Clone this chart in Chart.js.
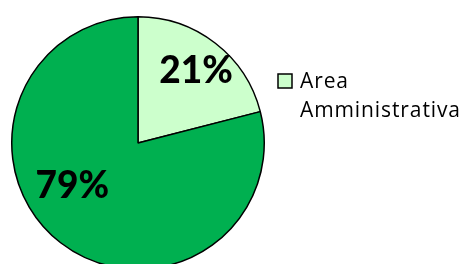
<!DOCTYPE html>
<html>
<head>
<meta charset="utf-8">
<script src="https://cdn.jsdelivr.net/npm/chart.js@4/dist/chart.umd.min.js"></script>
<style>
  html, body { margin: 0; padding: 0; background: #fff; overflow: hidden; }
  #wrap { width: 465px; height: 270px; }
</style>
</head>
<body>
<div id="wrap"><canvas id="pieChart" width="465" height="270"></canvas></div>
<script>
// data
const categories = ['Area Amministrativa', 'Altro'];
const values = [21, 79];
const pctLabels = ['21%', '79%'];
const legendLines = [['Area', 'Amministrativa']];
const sliceColors = ['#ccffcc', '#00b050'];

// where each % label sits: angle (deg, 0 = right, clockwise) and fraction of radius
const labelSpots = [[-51, 0.73], [147, 0.62]];

const labelPlugin = {
    id: 'pctLabels',
    afterDatasetsDraw(chart) {
        const ctx = chart.ctx;
        const meta = chart.getDatasetMeta(0);
        ctx.save();
        ctx.font = '900 37px Lato';
        ctx.fillStyle = '#000';
        ctx.textAlign = 'center';
        ctx.textBaseline = 'middle';
        meta.data.forEach((arc, i) => {
            const a = labelSpots[i][0] * Math.PI / 180;
            const r = arc.outerRadius * labelSpots[i][1];
            ctx.fillText(pctLabels[i], arc.x + Math.cos(a) * r, arc.y + Math.sin(a) * r);
        });
        ctx.restore();
    }
};

const legendPlugin = {
    id: 'sideLegend',
    afterDraw(chart) {
        const ctx = chart.ctx;
        const area = chart.chartArea;
        let x = area.right + 13;
        let y = 81;
        ctx.save();
        ctx.font = '21px "Open Sans"';
        ctx.letterSpacing = '0.9px';
        ctx.textBaseline = 'alphabetic';
        legendLines.forEach((lines, i) => {
            ctx.fillStyle = sliceColors[i];
            ctx.fillRect(x, y - 7, 14, 14);
            ctx.strokeStyle = '#000';
            ctx.lineWidth = 1.5;
            ctx.strokeRect(x, y - 7, 14, 14);
            ctx.fillStyle = '#000';
            lines.forEach((t, j) => {
                ctx.fillText(t, x + 22, y + 7 + j * 29);
            });
        });
        ctx.restore();
    }
};

new Chart(document.getElementById('pieChart'), {
    type: 'pie',
    data: {
        labels: categories,
        datasets: [{
            data: values,
            backgroundColor: sliceColors,
            borderColor: '#000',
            borderWidth: 1.5
        }]
    },
    options: {
        responsive: false,
        animation: false,
        layout: { padding: { left: 11, right: 200, top: 16, bottom: 0 } },
        plugins: {
            legend: { display: false },
            tooltip: { enabled: false }
        }
    },
    plugins: [labelPlugin, legendPlugin]
});
</script>
</body>
</html>
